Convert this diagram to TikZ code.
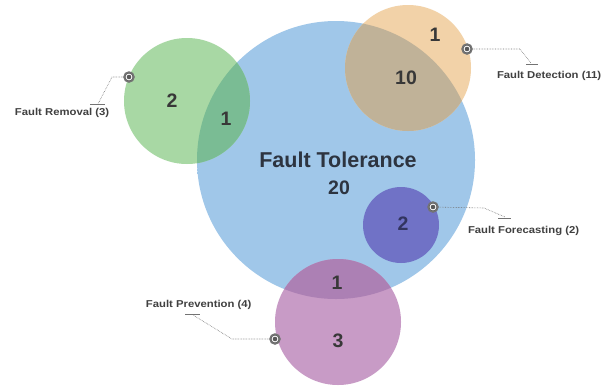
\documentclass[tikz,border=0pt]{standalone}
\usepackage{fontspec}
\setmainfont{Liberation Sans}
\definecolor{cblue}{RGB}{160,199,233}
\definecolor{cblueedge}{RGB}{128,172,220}
\pgfdeclareradialshading{bluesh}{\pgfpoint{0bp}{0bp}}{color(0bp)=(cblue); color(36bp)=(cblue); color(50bp)=(cblueedge)}
\begin{document}
\begin{tikzpicture}[x=1pt,y=-1pt,
  numtxt/.style={font=\bfseries\fontsize{19.5}{22}\selectfont, text=black!78},
  lbl/.style={font=\bfseries\fontsize{10}{12}\selectfont, text=black!75, xscale=1.13},
  lead/.style={draw=black!55, densely dotted, line width=0.6pt},
  tick/.style={draw=black!55, line width=0.6pt},
  marker/.style={circle, draw=black!55, line width=1.5pt, fill=black!65, inner sep=0pt, minimum size=10pt}]
\definecolor{cgreen}{RGB}{168,216,164}
\definecolor{cgreenov}{RGB}{122,188,148}
\definecolor{corange}{RGB}{242,210,168}
\definecolor{corangeov}{RGB}{192,178,152}
\definecolor{cpurple}{RGB}{112,114,198}
\definecolor{cpink}{RGB}{200,155,198}
\definecolor{cpinkov}{RGB}{172,128,180}
\definecolor{ctext}{RGB}{45,52,64}
\useasboundingbox (0,0) rectangle (609,386);
\fill[white] (0,0) rectangle (609,386);
% circles
\shade[shading=bluesh] (336,160) circle (139);
\fill[cgreen] (187,101) circle (63);
\fill[corange] (408,68) circle (63);
\fill[cpink] (338,322) circle (63);
\begin{scope}
  \clip (336,160) circle (139);
  \fill[cgreenov] (187,101) circle (63);
  \fill[corangeov] (408,68) circle (63);
  \fill[cpinkov] (338,322) circle (63);
\end{scope}
\fill[cpurple] (401,225) circle (38);
% texts in circles
\node[font=\bfseries\fontsize{21.5}{25}\selectfont, text=ctext] (ft) at (338,160) {Fault Tolerance};
\node[numtxt, text=ctext] (n20) at (339,188) {20};
\node[numtxt] (g2) at (172,101) {2};
\node[numtxt] (g1) at (226,119) {1};
\node[numtxt] (o1) at (435,35) {1};
\node[numtxt] (o10) at (406,78) {10};
\node[numtxt, text={rgb,255:red,50;green,52;blue,95}] (p2) at (403,224) {2};
\node[numtxt] (k1) at (337,283) {1};
\node[numtxt] (k3) at (338,341) {3};
% markers and leaders
\node[marker] (mR) at (129,77) {};
\node[marker] (mD) at (467,49) {};
\node[marker] (mF) at (433,207) {};
\node[marker] (mP) at (275,339) {};
\foreach \m in {mR,mD,mF,mP} {\fill[white] (\m) circle (3.4); \fill[black!65] (\m) circle (2.3);}
\coordinate (r1) at (112,77); \coordinate (r2) at (98,104);
\coordinate (d1) at (520,49); \coordinate (d2) at (531,63);
\coordinate (f1) at (484,208); \coordinate (f2) at (505,217);
\coordinate (p1) at (232,339); \coordinate (p2c) at (193,315);
\draw[lead] (mR) -- (r1) -- (r2);
\draw[tick] (90,104) -- (105,104);
\draw[lead] (mD) -- (d1) -- (d2);
\draw[tick] (526,64) -- (538,64);
\draw[lead] (mF) -- (f1) -- (f2);
\draw[tick] (498,218) -- (511,218);
\draw[lead] (mP) -- (p1) -- (p2c);
\draw[tick] (185,314) -- (200,314);
\node[lbl, anchor=west] (lR) at (11,113) {Fault Removal (3)};
\node[lbl, anchor=west] (lD) at (493,76) {Fault Detection (11)};
\node[lbl, anchor=west] (lF) at (464,231) {Fault Forecasting (2)};
\node[lbl, anchor=west] (lP) at (142,305) {Fault Prevention (4)};
\end{tikzpicture}
\end{document}
